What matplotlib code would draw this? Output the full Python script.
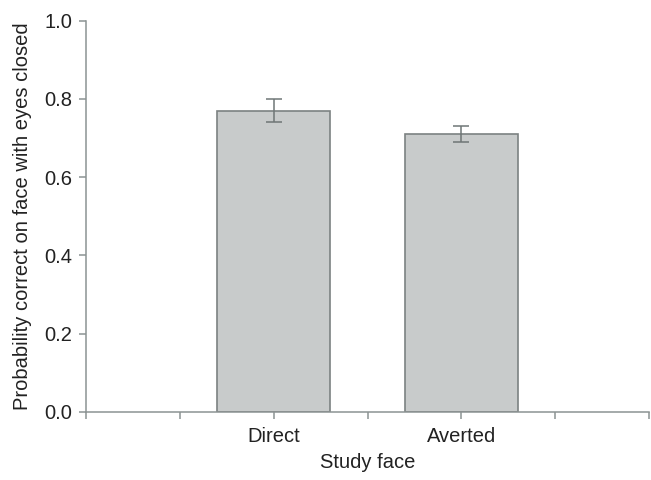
import matplotlib.pyplot as plt
import numpy as np

plt.rcParams['font.family'] = ['Liberation Sans', 'DejaVu Sans']

conditions = ['Direct', 'Averted']
prob_correct = [0.77, 0.71]
sem = [0.03, 0.02]
yticks = [0.0, 0.2, 0.4, 0.6, 0.8, 1.0]

axis_col = '#8c9393'
bar_face = '#c8cbcb'
bar_edge = '#7c8282'

fig = plt.figure(figsize=(6.51, 4.8), dpi=100)
ax = fig.add_axes([0.1321, 0.1417, 0.8649, 0.8153])

xpos = np.array([2, 4])
ax.bar(xpos, prob_correct, width=1.2, color=bar_face, edgecolor=bar_edge,
       linewidth=1.2, zorder=2)
ax.errorbar(xpos, prob_correct, yerr=sem, fmt='none', ecolor='#6f7676',
            elinewidth=1.1, capsize=6, capthick=1.1, zorder=3)

ax.set_xlim(0, 6)
ax.set_ylim(0, 1.0)
ax.set_xticks(range(7))
ax.set_xticklabels(['', '', conditions[0], '', conditions[1], '', ''])
ax.set_yticks(yticks)
ax.set_yticklabels([f'{t:.1f}' for t in yticks])

for side in ['top', 'right']:
    ax.spines[side].set_visible(False)
for side in ['left', 'bottom']:
    ax.spines[side].set_color(axis_col)
    ax.spines[side].set_linewidth(1.1)

ax.tick_params(axis='both', colors=axis_col, length=5, width=1.1,
               labelsize=14.5, labelcolor='#222222')
ax.tick_params(axis='x', pad=6)
ax.tick_params(axis='y', pad=5)

ax.set_xlabel('Study face', fontsize=14.5, color='#222222', labelpad=5)
ax.set_ylabel('Probability correct on face with eyes closed', fontsize=14.5,
              color='#222222', labelpad=9)

fig.savefig('out.png', dpi=100)
